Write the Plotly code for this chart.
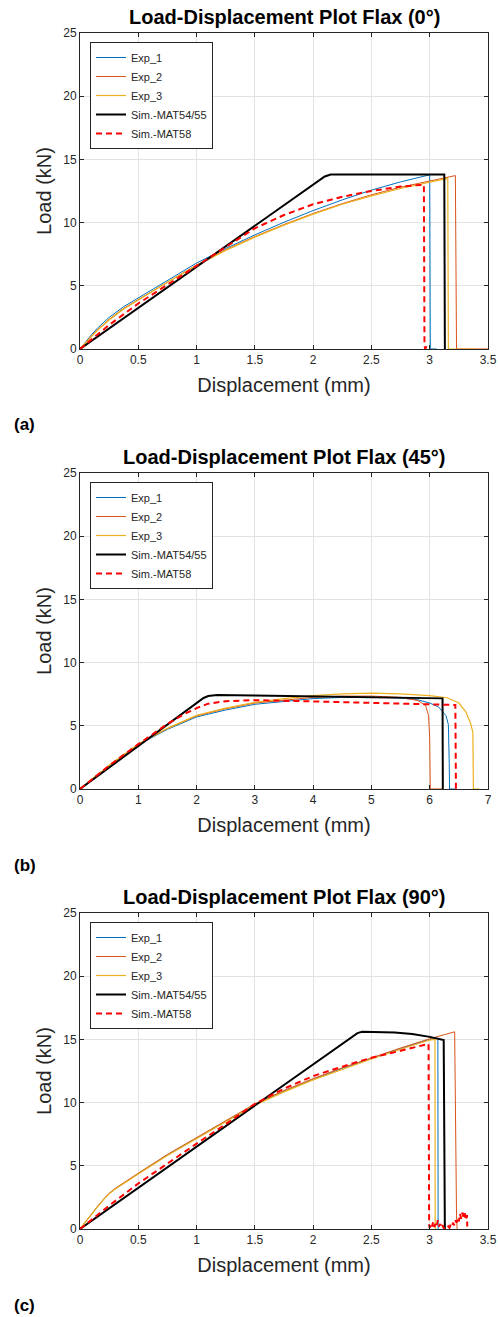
import plotly.graph_objects as go

# ---------------- DATA ----------------
# Panel (a) Flax 0 deg
a_exp1_x = [0, 0.05, 0.1, 0.15, 0.2, 0.25, 0.375, 0.5, 0.75, 1.0, 1.25, 1.5, 1.75, 2.0, 2.25, 2.5, 2.75, 2.99, 3.0, 3.005, 3.06]
a_exp1_y = [0, 0.6, 1.15, 1.65, 2.1, 2.5, 3.35, 4.05, 5.45, 6.8, 7.95, 9.03, 10.03, 10.95, 11.8, 12.57, 13.22, 13.75, 13.78, 0, 0]
a_exp2_x = [0, 0.05, 0.1, 0.15, 0.2, 0.25, 0.375, 0.5, 0.75, 1.0, 1.25, 1.5, 1.75, 2.0, 2.25, 2.5, 2.75, 3.0, 3.22, 3.23, 3.5]
a_exp2_y = [0, 0.55, 1.05, 1.52, 1.95, 2.35, 3.22, 3.92, 5.32, 6.65, 7.85, 8.9, 9.85, 10.72, 11.5, 12.2, 12.8, 13.3, 13.72, 0, 0]
a_exp3_x = [0, 0.05, 0.1, 0.15, 0.2, 0.25, 0.375, 0.5, 0.75, 1.0, 1.25, 1.5, 1.75, 2.0, 2.25, 2.5, 2.75, 3.0, 3.155, 3.16, 3.4]
a_exp3_y = [0, 0.52, 1.0, 1.47, 1.9, 2.3, 3.17, 3.87, 5.28, 6.6, 7.8, 8.85, 9.8, 10.67, 11.45, 12.12, 12.7, 13.2, 13.5, 0, 0]
a_m54_x = [0, 2.1, 2.15, 3.125, 3.13]
a_m54_y = [0, 13.65, 13.8, 13.8, 0]
a_m58_x = [0, 0.1, 0.25, 0.5, 0.75, 1.0, 1.25, 1.5, 1.75, 2.0, 2.25, 2.5, 2.75, 2.95, 2.955, 2.96, 2.975, 2.985]
a_m58_y = [0, 0.75, 1.9, 3.6, 5.1, 6.55, 8.1, 9.55, 10.6, 11.45, 12.05, 12.5, 12.85, 13.0, 0.4, 0, 0.25, 0]

# Panel (b) Flax 45 deg
b_exp1_x = [0, 0.25, 0.5, 1.0, 1.5, 2.0, 2.5, 3.0, 3.5, 4.0, 4.5, 5.0, 5.5, 5.8, 6.0, 6.15, 6.28, 6.32, 6.335, 6.34, 6.45]
b_exp1_y = [0, 0.95, 1.85, 3.5, 4.72, 5.7, 6.25, 6.7, 6.95, 7.15, 7.25, 7.28, 7.2, 7.05, 6.8, 6.5, 5.8, 5.1, 2.0, 0, 0]
b_exp2_x = [0, 0.25, 0.5, 1.0, 1.5, 2.0, 2.5, 3.0, 3.5, 4.0, 4.5, 5.0, 5.5, 5.8, 5.93, 5.98, 6.0, 6.01, 6.22]
b_exp2_y = [0, 0.97, 1.88, 3.55, 4.78, 5.78, 6.35, 6.8, 7.05, 7.25, 7.35, 7.35, 7.25, 7.0, 6.6, 5.8, 4.0, 0, 0]
b_exp3_x = [0, 0.25, 0.5, 1.0, 1.5, 2.0, 2.5, 3.0, 3.5, 4.0, 4.5, 5.0, 5.5, 6.0, 6.3, 6.5, 6.62, 6.7, 6.74, 6.75, 6.85]
b_exp3_y = [0, 0.97, 1.88, 3.55, 4.8, 5.82, 6.4, 6.85, 7.15, 7.38, 7.52, 7.58, 7.52, 7.38, 7.22, 6.8, 6.1, 5.2, 4.5, 0, 0]
b_m54_x = [0, 2.12, 2.2, 2.35, 3.0, 4.0, 5.0, 6.22, 6.225]
b_m54_y = [0, 7.2, 7.36, 7.43, 7.4, 7.33, 7.27, 7.17, 0]
b_m58_x = [0, 0.5, 1.0, 1.5, 1.8, 2.0, 2.2, 2.5, 3.0, 3.5, 4.0, 4.5, 5.0, 5.5, 6.0, 6.44, 6.45]
b_m58_y = [0, 1.85, 3.55, 5.15, 5.95, 6.4, 6.75, 6.95, 7.03, 7.0, 6.93, 6.87, 6.8, 6.75, 6.7, 6.65, 0]

# Panel (c) Flax 90 deg
c_exp1_x = [0, 0.05, 0.1, 0.15, 0.2, 0.25, 0.3, 0.35, 0.4, 0.5, 0.75, 1.0, 1.25, 1.5, 1.75, 2.0, 2.25, 2.5, 2.75, 3.0, 3.07, 3.072]
c_exp1_y = [0, 0.62, 1.2, 1.77, 2.32, 2.8, 3.17, 3.48, 3.78, 4.38, 5.85, 7.2, 8.52, 9.85, 10.9, 11.85, 12.7, 13.5, 14.27, 15.0, 15.1, 0]
c_exp2_x = [0, 0.05, 0.1, 0.15, 0.2, 0.25, 0.3, 0.35, 0.4, 0.5, 0.75, 1.0, 1.25, 1.5, 1.75, 2.0, 2.25, 2.5, 2.75, 3.0, 3.214, 3.23, 3.235]
c_exp2_y = [0, 0.63, 1.22, 1.79, 2.34, 2.83, 3.2, 3.51, 3.81, 4.42, 5.9, 7.25, 8.57, 9.9, 10.95, 11.9, 12.75, 13.55, 14.32, 15.05, 15.6, 1.1, 0]
c_exp3_x = [0, 0.05, 0.1, 0.15, 0.2, 0.25, 0.3, 0.35, 0.4, 0.5, 0.75, 1.0, 1.25, 1.5, 1.75, 2.0, 2.25, 2.5, 2.75, 3.0, 3.045, 3.047]
c_exp3_y = [0, 0.61, 1.18, 1.75, 2.3, 2.78, 3.15, 3.46, 3.76, 4.35, 5.82, 7.17, 8.48, 9.8, 10.85, 11.8, 12.65, 13.45, 14.22, 14.95, 15.0, 0]
c_m54_x = [0, 2.38, 2.42, 2.55, 2.7, 2.85, 3.0, 3.12, 3.13]
c_m54_y = [0, 15.5, 15.6, 15.6, 15.55, 15.42, 15.2, 14.95, 0]
c_m58_x = [0, 0.25, 0.5, 0.75, 1.0, 1.25, 1.5, 1.75, 2.0, 2.25, 2.5, 2.75, 2.9, 2.99, 2.995,
           3.0, 3.01, 3.02, 3.03, 3.04, 3.05, 3.06, 3.07, 3.08, 3.09, 3.1, 3.11, 3.12, 3.13, 3.14,
           3.15, 3.16, 3.17, 3.18, 3.19, 3.2, 3.21, 3.22, 3.23, 3.24, 3.25, 3.26, 3.27, 3.28, 3.29,
           3.3, 3.31, 3.32, 3.322]
c_m58_y = [0, 1.85, 3.6, 5.2, 6.75, 8.3, 9.9, 11.1, 12.1, 12.85, 13.55, 14.1, 14.45, 14.65, 0.3,
           0.1, 0.45, 0.2, 0.6, 0.15, 0.5, 0.3, 0.7, 0.2, 0.4, 0.1, 0.3, 0.05, 0.0, 0.1,
           0.05, 0.2, 0.1, 0.35, 0.2, 0.5, 0.3, 0.7, 0.5, 0.9, 0.6, 1.2, 0.8, 1.3, 0.9,
           1.25, 0.7, 1.1, 0.2]

series_names = ["Exp_1", "Exp_2", "Exp_3", "Sim.-MAT54/55", "Sim.-MAT58"]
panel_titles = ["Load-Displacement Plot Flax (0°)", "Load-Displacement Plot Flax (45°)",
                "Load-Displacement Plot Flax (90°)"]
panel_labels = ["(a)", "(b)", "(c)"]
x_ticks_35 = [0, 0.5, 1, 1.5, 2, 2.5, 3, 3.5]
x_ticklabels_35 = ["0", "0.5", "1", "1.5", "2", "2.5", "3", "3.5"]
x_ticks_7 = [0, 1, 2, 3, 4, 5, 6, 7]
x_ticklabels_7 = ["0", "1", "2", "3", "4", "5", "6", "7"]
y_ticks = [0, 5, 10, 15, 20, 25]
y_ticklabels = ["0", "5", "10", "15", "20", "25"]

panels = [
    [(a_exp1_x, a_exp1_y), (a_exp2_x, a_exp2_y), (a_exp3_x, a_exp3_y), (a_m54_x, a_m54_y), (a_m58_x, a_m58_y)],
    [(b_exp1_x, b_exp1_y), (b_exp2_x, b_exp2_y), (b_exp3_x, b_exp3_y), (b_m54_x, b_m54_y), (b_m58_x, b_m58_y)],
    [(c_exp1_x, c_exp1_y), (c_exp2_x, c_exp2_y), (c_exp3_x, c_exp3_y), (c_m54_x, c_m54_y), (c_m58_x, c_m58_y)],
]

# ---------------- STYLE ----------------
W, H = 498, 1317
FONT = "Liberation Sans, Arial, Helvetica, sans-serif"
DARK = "#262626"
line_styles = [
    dict(color="#0072BD", width=1),
    dict(color="#D95319", width=1),
    dict(color="#EDB120", width=1.2),
    dict(color="#000000", width=2),
    dict(color="#FF0000", width=2, dash="6px,4px"),
]
plot_left, plot_right = 80, 488
panel_offsets = [0, 440, 880]
plot_top_rel, plot_bot_rel = 33, 349

fig = go.Figure()
layout = dict(
    width=W, height=H,
    margin=dict(l=0, r=0, t=0, b=0, autoexpand=False),
    paper_bgcolor="white", plot_bgcolor="white",
    font=dict(family=FONT, color=DARK),
    showlegend=True,
    annotations=[],
)

def py(p):
    return 1 - p / H

for i, data in enumerate(panels):
    off = panel_offsets[i]
    sfx = "" if i == 0 else str(i + 1)
    leg = "legend" if i == 0 else "legend" + str(i + 1)
    for j, (xs, ys) in enumerate(data):
        fig.add_trace(go.Scatter(
            x=xs, y=ys, mode="lines", name=series_names[j],
            line=line_styles[j], xaxis="x" + sfx, yaxis="y" + sfx,
            legend=leg, hoverinfo="skip",
        ))
    xr = [0, 7] if i == 1 else [0, 3.5]
    tv = x_ticks_7 if i == 1 else x_ticks_35
    tt = x_ticklabels_7 if i == 1 else x_ticklabels_35
    common = dict(
        showgrid=True, gridcolor="#e3e3e3", gridwidth=1,
        showline=True, linecolor=DARK, linewidth=1, mirror="ticks",
        ticks="inside", ticklen=4, tickcolor=DARK, tickwidth=1,
        tickfont=dict(size=12, color=DARK, family=FONT),
        zeroline=False, fixedrange=True, automargin=False,
    )
    layout["xaxis" + sfx] = dict(
        common, range=xr, tickvals=tv, ticktext=tt,
        domain=[plot_left / W, plot_right / W], anchor="y" + sfx,
        title=dict(text="Displacement (mm)", font=dict(size=20, color=DARK, family=FONT), standoff=11),
    )
    layout["yaxis" + sfx] = dict(
        common, range=[0, 25], tickvals=y_ticks, ticktext=y_ticklabels,
        domain=[py(off + plot_bot_rel), py(off + plot_top_rel)], anchor="x" + sfx,
        title=dict(text="Load (kN)", font=dict(size=20, color=DARK, family=FONT), standoff=6),
    )
    layout[leg] = dict(
        x=90 / W, y=py(off + 42), xanchor="left", yanchor="top",
        bgcolor="white", bordercolor=DARK, borderwidth=1,
        font=dict(size=11, color=DARK, family=FONT),
    )
    layout["annotations"].append(dict(
        text="<b>" + panel_titles[i] + "</b>", x=(plot_left + plot_right) / 2 / W, y=py(off + 17),
        xref="paper", yref="paper", xanchor="center", yanchor="middle", showarrow=False,
        font=dict(size=20, color="black", family=FONT),
    ))
    layout["annotations"].append(dict(
        text="<b>" + panel_labels[i] + "</b>", x=12 / W, y=py(off + 425),
        xref="paper", yref="paper", xanchor="left", yanchor="middle", showarrow=False,
        font=dict(size=17, color="black", family=FONT),
    ))

fig.update_layout(**layout)
fig.write_html(
    "out.html",
    config=dict(displayModeBar=False, responsive=False),
    post_script="document.body.style.margin='0';document.body.style.padding='0';document.body.style.overflow='hidden';",
)
